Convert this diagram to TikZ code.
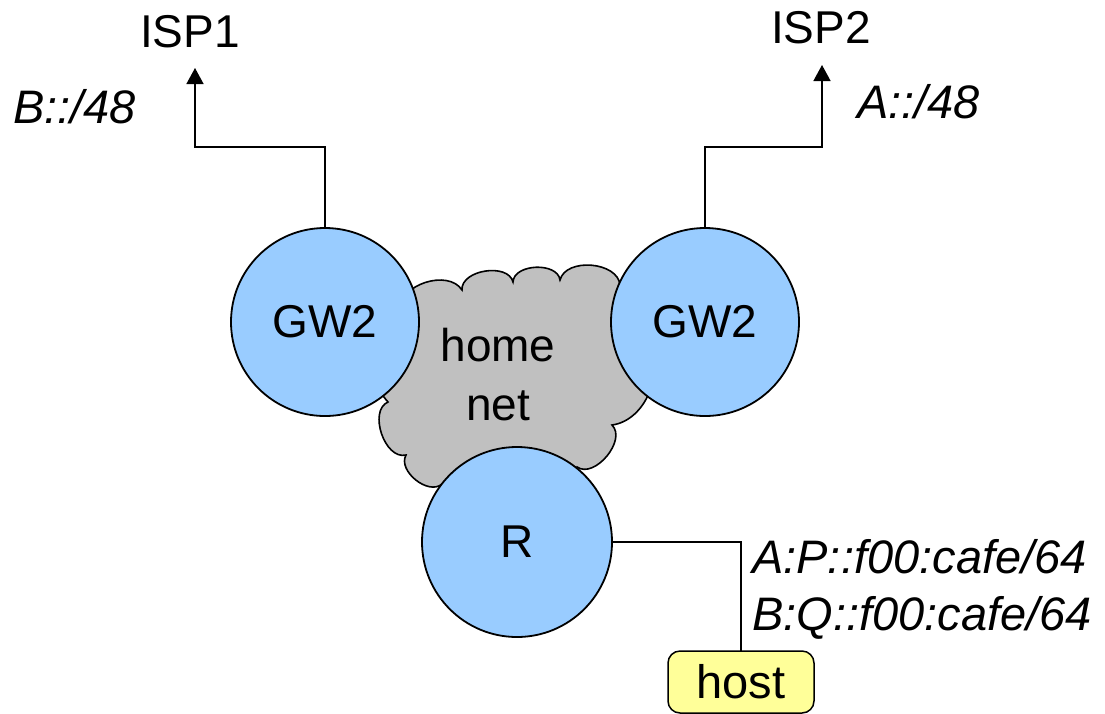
\documentclass[tikz,border=0pt]{standalone}
\usepackage{fontspec}
\setmainfont{Liberation Sans}
\usetikzlibrary{arrows.meta}
\definecolor{nodeblue}{HTML}{99CCFF}
\definecolor{cloudgray}{HTML}{C0C0C0}
\definecolor{hostyellow}{HTML}{FFFF99}
\begin{document}
\begin{tikzpicture}[x=1pt,y=1pt,
  big/.style={font=\fontsize{46}{59}\selectfont},
  lbl/.style={font=\fontsize{47}{57}\selectfont\itshape, inner sep=0pt},
  router/.style={circle, draw=black, line width=1.8pt, fill=nodeblue, inner sep=0pt, outer sep=0pt, minimum size=#1, font=\fontsize{46}{55}\selectfont},
  wire/.style={line width=1.5pt, draw=black},
  tip/.style={-{Triangle[width=17pt,length=16pt]}},
]
\useasboundingbox (0,0) rectangle (1105,-713);

% cloud
\draw[line width=1.6pt, fill=cloudgray]
  (400,-310) to[bend left=75] (462,-290)
  to[bend left=85] (513,-282)
  to[bend left=85] (560,-280)
  to[bend left=80] (620,-285)
  to[bend left=60] (645,-345)
  to[bend left=60] (612,-425)
  to[bend left=85] (577,-467)
  to[bend left=50] (442,-484)
  to[bend left=80] (406,-455)
  to[bend left=85] (388,-402)
  to[bend left=50] (400,-310) -- cycle;
\node[big, align=center, inner sep=0pt] (homenet) at (498,-375) {home\\net};

% routers
\node[router=188pt] (gw1) at (325,-322) {GW2};
\node[router=188pt] (gw2) at (705,-322) {GW2};
\node[router=190pt] (r) at (517,-542) {R};

% host
\node[draw=black, line width=1.5pt, fill=hostyellow, rounded corners=12pt,
  minimum width=146pt, minimum height=62pt, inner sep=0pt, outer sep=0pt,
  font=\fontsize{47}{55}\selectfont] (host) at (741,-682) {host};

% ISP labels
\node[big, anchor=base, inner sep=0pt] (isp1) at (190,-47) {ISP1};
\node[big, anchor=base, inner sep=0pt] (isp2) at (821,-43) {ISP2};

\coordinate (c1) at (195,-147);
\coordinate (t1) at (195,-68);
\coordinate (c2) at (822,-147);
\coordinate (t2) at (822,-65);
\draw[wire, tip] (gw1.north) |- (c1) -- (t1);
\draw[wire, tip] (gw2.north) |- (c2) -- (t2);
\draw[wire] (r.east) -| (host.north);

% prefixes
\node[lbl, anchor=base west] (pb) at (13,-123) {B::/48};
\node[lbl, anchor=base west] (pa) at (857,-118) {A::/48};
\node[lbl, anchor=base west] (addr1) at (752,-573) {A:P::f00:cafe/64};
\node[lbl, anchor=base west] (addr2) at (752,-630) {B:Q::f00:cafe/64};
\end{tikzpicture}
\end{document}
